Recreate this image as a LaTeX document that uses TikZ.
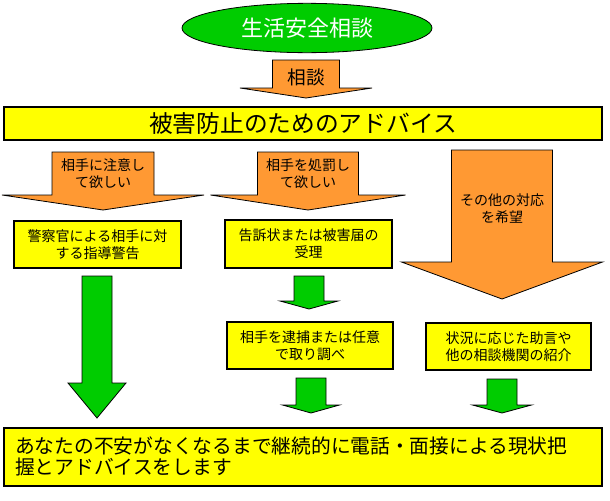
\documentclass[tikz,border=0pt]{standalone}
\usepackage{fontspec}
\newfontfamily\jp{Noto Sans CJK JP}
\usetikzlibrary{shapes.geometric}
\definecolor{grn}{HTML}{00CC00}
\definecolor{org}{HTML}{FF9933}
\definecolor{yel}{HTML}{FFFF00}
\newcommand\blockarr[7]{% style, cx, bodyhalf, top, shoulder, winghalf, tip
  \draw[#1] ({#2-#3},#4) -- ({#2+#3},#4) -- ({#2+#3},#5) -- ({#2+#6},#5) -- (#2,#7)
     -- ({#2-#6},#5) -- ({#2-#3},#5) -- cycle;}
\begin{document}
\begin{tikzpicture}[x=0.75pt,y=-0.75pt,font=\jp,
  yelbox/.style={draw=black,fill=yel,line width=0.8pt,inner sep=0pt,align=center},
  orarrow/.style={draw=black,fill=org,line width=0.6pt,line join=miter},
  grarrow/.style={draw=black,fill=grn,line width=0.6pt,line join=miter},
  small/.style={font=\jp\fontsize{10.5}{12.75}\selectfont,align=center,inner sep=0pt}]
\useasboundingbox (0,0) rectangle (610,500);
\fill[white] (0,0) rectangle (610,500);

% top ellipse
\node[ellipse,draw=black,fill=grn,line width=0.6pt,minimum width=187.5pt,minimum height=37pt,inner sep=0pt,
  text=white,font=\jp\fontsize{16.5}{18}\selectfont] (top) at (307,28) {生活安全相談};

% consult arrow
\blockarr{orarrow}{306}{33.5}{60}{88}{66}{98}
\node[inner sep=0pt,font=\jp\fontsize{14}{16}\selectfont] (soudan) at (306,77) {相談};

% banner
\node[yelbox,minimum width=448.5pt,minimum height=24.75pt,font=\jp\fontsize{17.8}{20}\selectfont] (banner) at (303,123.5) {被害防止のためのアドバイス};

% orange branch arrows
\blockarr{orarrow}{103}{51}{152}{195}{101}{210}
\node[small] (wantL) at (103,173.5) {相手に注意し\\て欲しい};
\blockarr{orarrow}{308}{50.5}{152}{195}{97.5}{210}
\node[small] (wantM) at (308,173.5) {相手を処罰し\\て欲しい};
\blockarr{orarrow}{502}{50.5}{150}{262}{100.5}{299}
\node[small] (wantR) at (502,208.5) {その他の対応\\を希望};

% boxes
\node[yelbox,minimum width=125.25pt,minimum height=35.25pt,font=\jp\fontsize{10.5}{12.75}\selectfont] (boxL) at (97.5,244.5) {警察官による相手に対\\する指導警告};
\node[yelbox,minimum width=125.25pt,minimum height=36pt,font=\jp\fontsize{10.5}{12.75}\selectfont] (boxM1) at (308.5,244) {告訴状または被害届の\\受理};
\node[yelbox,minimum width=124.5pt,minimum height=35.25pt,font=\jp\fontsize{10.5}{12.75}\selectfont] (boxM2) at (310,345.5) {相手を逮捕または任意\\で取り調べ};
\node[yelbox,minimum width=123.75pt,minimum height=35.25pt,font=\jp\fontsize{10.5}{12.75}\selectfont] (boxR) at (508.5,346.5) {状況に応じた助言や\\他の相談機関の紹介};

% green arrows
\blockarr{grarrow}{97}{15}{276}{383}{29}{418}
\blockarr{grarrow}{309}{15}{276}{301}{29}{309}
\blockarr{grarrow}{311}{15}{378}{405}{28.5}{413}
\blockarr{grarrow}{502}{15}{379}{405}{29.5}{413}

% bottom box
\node[yelbox,minimum width=448.5pt,minimum height=43.5pt] (bottom) at (303,457) {};
\node[anchor=west,inner sep=0pt,align=left,font=\jp\fontsize{14.8}{15.75}\selectfont] (bottomtext) at (15,456.5)
  {あなたの不安がなくなるまで継続的に電話・面接による現状把\\握とアドバイスをします};
\end{tikzpicture}
\end{document}
